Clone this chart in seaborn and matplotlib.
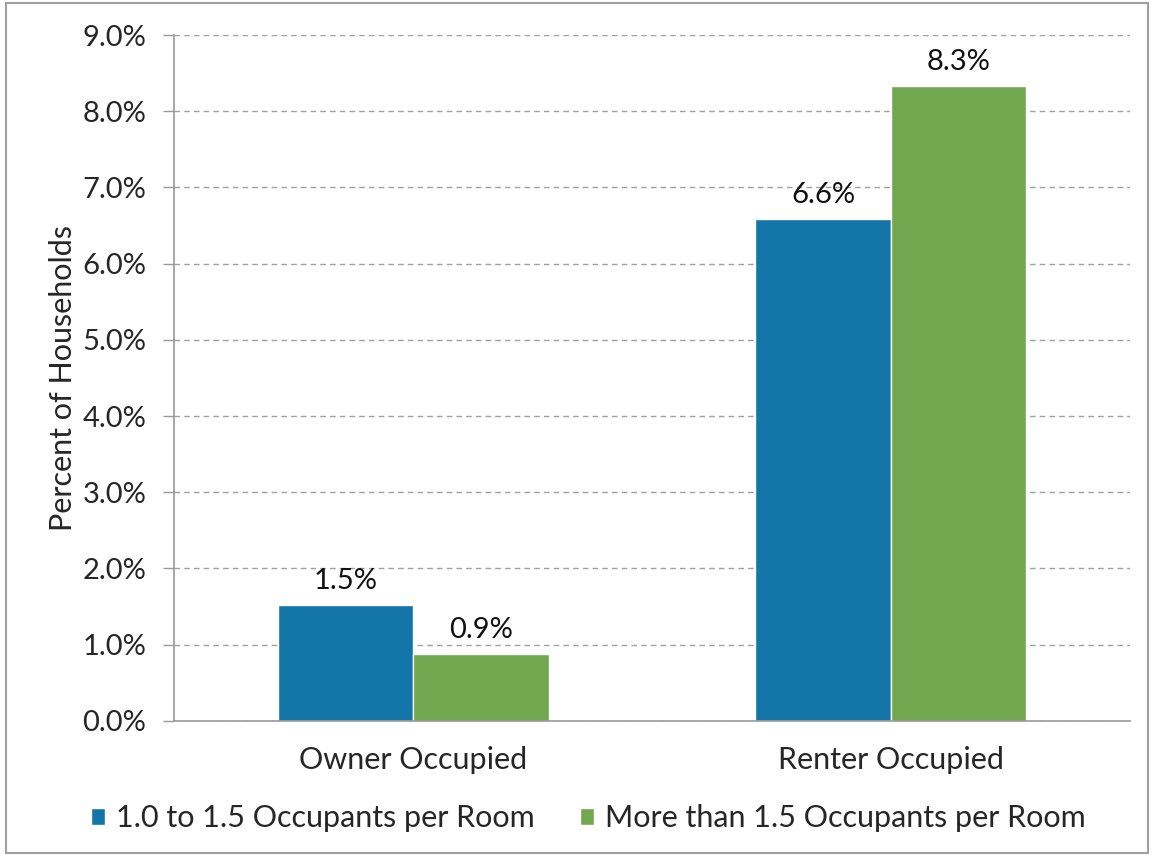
import pandas as pd
import seaborn as sns
import matplotlib.pyplot as plt
from matplotlib.patches import Rectangle
from matplotlib.ticker import PercentFormatter, FixedLocator

# data
tenure = ["Owner Occupied", "Renter Occupied"]
series = ["1.0 to 1.5 Occupants per Room", "More than 1.5 Occupants per Room"]
low_crowd = [1.52, 6.58]    # 1.0 to 1.5 occupants
high_crowd = [0.87, 8.33]   # more than 1.5 occupants
colors = ["#1375a8", "#71a84f"]

df = pd.DataFrame({
    "tenure": tenure * 2,
    "series": [series[0]] * 2 + [series[1]] * 2,
    "pct": low_crowd + high_crowd,
})

sns.set_style("white")
plt.rcParams["font.family"] = ["Lato", "DejaVu Sans"]

fig, ax = plt.subplots(figsize=(11.54, 8.55), dpi=100)
fig.subplots_adjust(left=0.151, right=0.979, top=0.959, bottom=0.157)

sns.barplot(data=df, x="tenure", y="pct", hue="series", palette=colors,
            width=0.567, saturation=1, edgecolor="white", linewidth=1,
            ax=ax, legend=True)

for c in ax.containers:
    ax.bar_label(c, fmt="%.1f%%", padding=8, fontsize=21, color="#111111")

ax.set_ylim(0, 9)
ax.set_xlim(-0.5, 1.5)
ax.set_yticks(range(0, 10))
ax.yaxis.set_major_formatter(PercentFormatter(decimals=1))
ax.yaxis.grid(True, linestyle=(0, (4, 3)), color="#a0a0a0", linewidth=1)
ax.set_axisbelow(True)

ax.xaxis.set_minor_locator(FixedLocator([-0.5, 0.5, 1.5]))
ax.tick_params(axis="x", which="major", length=0, labelsize=22, pad=18)
ax.tick_params(axis="x", which="minor", length=8, color="#999999", width=1)
ax.tick_params(axis="y", length=8, color="#999999", width=1, labelsize=21, pad=12, left=True)

for side in ["top", "right"]:
    ax.spines[side].set_visible(False)
for side in ["left", "bottom"]:
    ax.spines[side].set_color("#999999")
    ax.spines[side].set_linewidth(1.2)

ax.set_xlabel("")
ax.set_ylabel("Percent of Households", fontsize=22, labelpad=4)

handles, labels = ax.get_legend_handles_labels()
ax.get_legend().remove()
fig.legend(handles, labels, loc="center", bbox_to_anchor=(0.51, 0.043), ncol=2,
           frameon=False, fontsize=22, handlelength=0.45, handleheight=0.45,
           handletextpad=0.35, columnspacing=1.5)

fig.patches.append(Rectangle((0.005, 0.002), 0.99, 0.994, transform=fig.transFigure,
                             fill=False, edgecolor="#a0a0a0", linewidth=1.5))

fig.savefig("out.png", dpi=100)
